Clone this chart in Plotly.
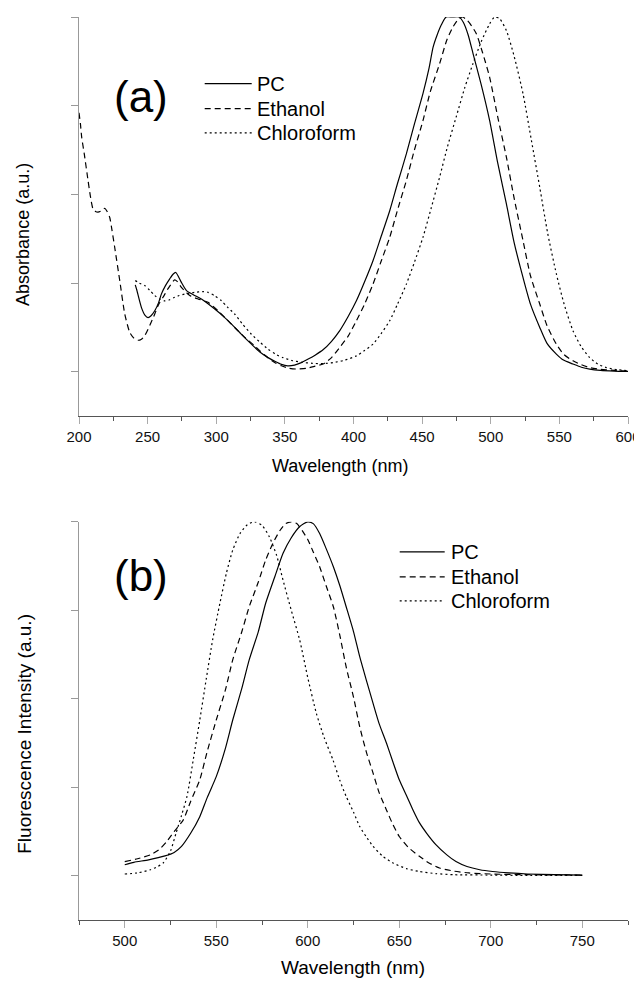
import plotly.graph_objects as go

# ---------------- data: (a) absorbance ----------------
pc_abs_wl = [241, 242, 245.5, 248, 250.3, 252.5, 255.2, 258, 260, 263, 266.1, 268.5, 270.5, 272.5, 274.6,
             278.3, 283, 289.2, 294, 298.9, 305, 311, 318, 325.6, 332, 337.7, 343, 347.5, 352, 357, 362,
             367, 372, 377.8, 384, 390, 396, 402.1, 408, 414.2, 420, 426.4, 432, 438.5, 444.5, 450.6, 455,
             458, 461, 464, 467.5, 472, 477, 480, 483.5, 487.1, 493, 499.2, 505, 511.4, 517, 523.5, 529,
             535.7, 541, 547.8, 553, 559.9, 566, 572.1, 580, 590, 600]
pc_abs = [0.245, 0.232, 0.181, 0.160, 0.153, 0.158, 0.172, 0.195, 0.219, 0.243, 0.262, 0.275, 0.280, 0.268, 0.252,
          0.229, 0.218, 0.205, 0.192, 0.177, 0.157, 0.135, 0.107, 0.078, 0.055, 0.040, 0.029, 0.021, 0.017, 0.019, 0.026,
          0.036, 0.047, 0.062, 0.086, 0.116, 0.155, 0.200, 0.253, 0.313, 0.380, 0.454, 0.530, 0.614, 0.700, 0.784, 0.855,
          0.915, 0.950, 0.978, 1.000, 1.000, 1.000, 0.985, 0.950, 0.897, 0.810, 0.708, 0.590, 0.473, 0.365, 0.266, 0.190,
          0.125, 0.080, 0.050, 0.033, 0.022, 0.013, 0.0075, 0.004, 0.002, 0.001]

eth_abs_wl = [200, 201, 202, 204, 206.6, 208.5, 210.2, 212, 213.8, 216, 218.7, 220.5, 222.4, 224, 226, 229.7,
              233.3, 237, 240, 243, 245.5, 247.9, 251.5, 255.2, 258, 261.2, 265, 269.7, 271.5, 274.6, 280.7,
              287, 294, 301.3, 307, 313.4, 320, 328, 335, 342.6, 347.5, 353, 358, 365.7, 372, 377.8, 384, 390,
              396, 402.1, 408, 414.2, 420, 426.4, 432, 438.5, 444, 450.6, 456, 462.7, 468, 472.5, 476, 479.5,
              483, 486, 489.5, 494, 499.2, 505, 511.4, 517, 523.5, 529, 535.7, 541, 547.8, 553, 559.9, 566,
              572.1, 580, 590, 600]
eth_abs = [0.730, 0.700, 0.660, 0.610, 0.539, 0.490, 0.459, 0.452, 0.450, 0.453, 0.461, 0.452, 0.435, 0.400, 0.351, 0.257,
           0.164, 0.111, 0.095, 0.089, 0.092, 0.102, 0.130, 0.163, 0.190, 0.210, 0.235, 0.259, 0.255, 0.238, 0.215,
           0.205, 0.196, 0.172, 0.150, 0.125, 0.100, 0.073, 0.048, 0.026, 0.017, 0.010, 0.008, 0.010, 0.016, 0.022, 0.040, 0.069,
           0.100, 0.144, 0.190, 0.247, 0.310, 0.379, 0.455, 0.539, 0.620, 0.708, 0.790, 0.868, 0.935, 0.972, 0.992, 1.000,
           0.990, 0.975, 0.953, 0.900, 0.830, 0.720, 0.605, 0.490, 0.370, 0.270, 0.191, 0.130, 0.078, 0.050, 0.031, 0.020,
           0.012, 0.007, 0.004, 0.002]

chl_abs_wl = [241, 244, 247.9, 251.5, 255.2, 259, 262.5, 266, 269.7, 273, 277, 284.3, 290, 294, 299, 303.8, 308,
              313.4, 319, 325.6, 332, 337.7, 343, 348.6, 355, 362, 370, 378, 385, 393, 402.1, 408, 414.2, 420,
              426.4, 432, 438.5, 444.5, 450.6, 456.5, 462.7, 468.5, 474.8, 481, 487, 493, 499.2, 502.8, 506.5,
              511.4, 517, 523.5, 529.5, 535.7, 541.5, 547.8, 553.5, 559.9, 566, 572.1, 578, 584.2, 592, 600]
chl_abs = [0.257, 0.250, 0.243, 0.230, 0.215, 0.205, 0.200, 0.203, 0.210, 0.215, 0.219, 0.224, 0.226, 0.224, 0.214, 0.200, 0.183,
           0.163, 0.135, 0.106, 0.083, 0.064, 0.050, 0.040, 0.032, 0.027, 0.024, 0.023, 0.026, 0.032, 0.045, 0.060, 0.078, 0.107,
           0.144, 0.190, 0.247, 0.310, 0.379, 0.460, 0.548, 0.635, 0.718, 0.800, 0.868, 0.930, 0.981, 1.000, 0.995,
           0.962, 0.890, 0.784, 0.655, 0.520, 0.390, 0.276, 0.190, 0.116, 0.070, 0.040, 0.022, 0.012, 0.006, 0.003]

# ---------------- data: (b) fluorescence ----------------
pc_fl_wl = [500, 505, 513, 522, 527, 531, 536, 541, 545, 550, 555, 559, 564, 568, 573, 577, 582, 586.5, 591,
            595.5, 600, 603, 606.5, 610, 614, 617.5, 621, 625, 628.4, 632, 635.7, 639, 643, 646.5, 650, 654,
            657.5, 661, 665, 670, 676, 681, 687, 694, 701, 710, 720, 735, 750]
pc_fl = [0.031, 0.038, 0.045, 0.056, 0.066, 0.083, 0.120, 0.167, 0.220, 0.280, 0.360, 0.440, 0.530, 0.610, 0.690, 0.770, 0.845, 0.911, 0.955,
         0.986, 1.000, 0.995, 0.967, 0.925, 0.873, 0.820, 0.760, 0.690, 0.619, 0.553, 0.487, 0.430, 0.375, 0.322, 0.271, 0.226,
         0.186, 0.150, 0.120, 0.088, 0.059, 0.040, 0.026, 0.017, 0.012, 0.008, 0.005, 0.003, 0.002]

eth_fl_wl = [500, 507, 514, 519, 523, 527, 532, 536, 541, 545, 550, 555, 559, 564, 568, 573, 577, 581, 585, 588,
             591, 594, 597, 600, 603, 606.5, 610, 614, 617.5, 621, 625, 628.4, 632, 635.7, 639, 643, 646.5, 650,
             655, 661, 666, 672, 680, 688, 700, 720, 750]
eth_fl = [0.040, 0.048, 0.059, 0.075, 0.097, 0.125, 0.158, 0.210, 0.271, 0.350, 0.440, 0.525, 0.610, 0.690, 0.760, 0.830, 0.892, 0.940, 0.977, 0.995,
          1.000, 0.995, 0.975, 0.950, 0.915, 0.873, 0.820, 0.760, 0.680, 0.590, 0.505, 0.421, 0.350, 0.290, 0.235, 0.186, 0.145, 0.111,
          0.080, 0.055, 0.037, 0.022, 0.013, 0.008, 0.005, 0.003, 0.002]

chl_fl_wl = [500, 507, 514, 518, 521, 525, 528, 531, 534, 537.5, 541, 544.5, 548, 552, 555.5, 559, 563, 567, 571,
             575, 579, 583, 586.5, 591, 595.6, 600, 604.7, 609, 613.8, 617.5, 621, 625, 628.4, 632, 635.7, 641,
             646.6, 654, 661, 670, 680, 700, 720, 750]
chl_fl = [0.005, 0.008, 0.017, 0.026, 0.036, 0.070, 0.120, 0.170, 0.224, 0.330, 0.440, 0.555, 0.666, 0.770, 0.854, 0.920, 0.967, 0.992, 1.000,
          0.990, 0.958, 0.905, 0.835, 0.750, 0.666, 0.560, 0.459, 0.390, 0.327, 0.270, 0.224, 0.180, 0.139, 0.110, 0.083, 0.055,
          0.036, 0.020, 0.012, 0.006, 0.003, 0.002, 0.001, 0.001]

series_names = ["PC", "Ethanol", "Chloroform"]
y_tickvals = [0, 0.25, 0.5, 0.75, 1.0]

# ---------------- layout helpers ----------------
# The page body has an 8px default margin, so the figure is drawn at (8, 8).
OFF = 8
W, H = 634, 973
AX_L, AX_R = 79.3 - OFF, 628.3 - OFF       # plot area left/right (figure px)
AX_T, AX_B = 16.7 - OFF, 920 - OFF         # plot area top/bottom (figure px)
L, R, T, B = AX_L, W - AX_R, AX_T, H - AX_B
PW, PH = AX_R - AX_L, AX_B - AX_T


def px_x(x):  # reference-screenshot pixel -> paper
    return (x - OFF - AX_L) / PW


def px_y(y):
    return (AX_B - (y - OFF)) / PH


FONT = "Liberation Sans, Arial, sans-serif"
dashes = {"PC": "solid", "Ethanol": "6px,4px", "Chloroform": "2px,3px"}
LW = 1.2

fig = go.Figure()
for name, wl, val in [("PC", pc_abs_wl, pc_abs), ("Ethanol", eth_abs_wl, eth_abs), ("Chloroform", chl_abs_wl, chl_abs)]:
    fig.add_trace(go.Scatter(x=wl, y=val, mode="lines", name=name, xaxis="x", yaxis="y", showlegend=False,
                             line=dict(color="black", width=LW, dash=dashes[name], shape="spline", smoothing=0.6)))
for name, wl, val in [("PC", pc_fl_wl, pc_fl), ("Ethanol", eth_fl_wl, eth_fl), ("Chloroform", chl_fl_wl, chl_fl)]:
    fig.add_trace(go.Scatter(x=wl, y=val, mode="lines", name=name, xaxis="x2", yaxis="y2", showlegend=False,
                             line=dict(color="black", width=LW, dash=dashes[name], shape="spline", smoothing=0.6)))

top_dom = [px_y(416), 1.0]
bot_dom = [0.0, px_y(521.7)]

xcommon = dict(showline=True, linecolor="#555555", linewidth=1, showgrid=False, zeroline=False,
               ticks="outside", ticklen=7, tickcolor="#aaaaaa", tickwidth=1, dtick=50,
               ticklabeloverflow="allow",
               tickfont=dict(family=FONT, size=15, color="#111111"),
               minor=dict(dtick=25, ticks="outside", ticklen=4, tickcolor="#555555", tickwidth=1))
ycommon = dict(showline=True, linecolor="#999999", linewidth=1, showgrid=False, zeroline=False,
               ticks="outside", ticklen=7, tickcolor="#999999", tickwidth=1,
               tickvals=y_tickvals, showticklabels=False, range=[-0.125, 1.0])

fig.update_layout(
    width=W, height=H, margin=dict(l=L, r=R, t=T, b=B, autoexpand=False),
    autosize=False,
    paper_bgcolor="white", plot_bgcolor="white", showlegend=False,
    font=dict(family=FONT, color="black"),
    xaxis=dict(xcommon, domain=[0, 1], range=[200, 600], tick0=200, anchor="y"),
    yaxis=dict(ycommon, domain=top_dom, anchor="x"),
    xaxis2=dict(xcommon, domain=[0, 1], range=[475, 775], tick0=500, anchor="y2"),
    yaxis2=dict(ycommon, domain=bot_dom, anchor="x2"),
)

ann = []
# axis titles
ann.append(dict(text="Wavelength (nm)", x=px_x(340), y=px_y(466), font=dict(size=18)))
ann.append(dict(text="Wavelength (nm)", x=px_x(353), y=px_y(980), yanchor="bottom", font=dict(size=19)))
ann.append(dict(text="Absorbance (a.u.)", x=px_x(24), y=px_y(234), textangle=-90, font=dict(size=18)))
ann.append(dict(text="Fluorescence Intensity (a.u.)", x=px_x(24), y=px_y(734), textangle=-90, font=dict(size=19)))
# panel labels
ann.append(dict(text="(a)", x=px_x(141), y=px_y(96), font=dict(size=44)))
ann.append(dict(text="(b)", x=px_x(141), y=px_y(575), font=dict(size=44)))

shapes = []
legend_specs = [
    (205, 252, 255, [83.3, 108.3, 132.7]),
    (400, 445, 449.7, [551.7, 576.7, 600.7]),
]
for x0, x1, xt, ys in legend_specs:
    for name, yy in zip(series_names, ys):
        shapes.append(dict(type="line", xref="paper", yref="paper", x0=px_x(x0), x1=px_x(x1),
                           y0=px_y(yy), y1=px_y(yy),
                           line=dict(color="black", width=LW, dash=dashes[name])))
        ann.append(dict(text=name, x=px_x(xt), y=px_y(yy), xanchor="left", font=dict(size=20)))

for a in ann:
    a.setdefault("xanchor", "center")
    a.setdefault("yanchor", "middle")
    a["xref"] = "paper"
    a["yref"] = "paper"
    a["showarrow"] = False
    a["font"] = dict(family=FONT, color="black", size=a["font"]["size"])

fig.update_layout(annotations=ann, shapes=shapes)
fig.write_html("out.html")
